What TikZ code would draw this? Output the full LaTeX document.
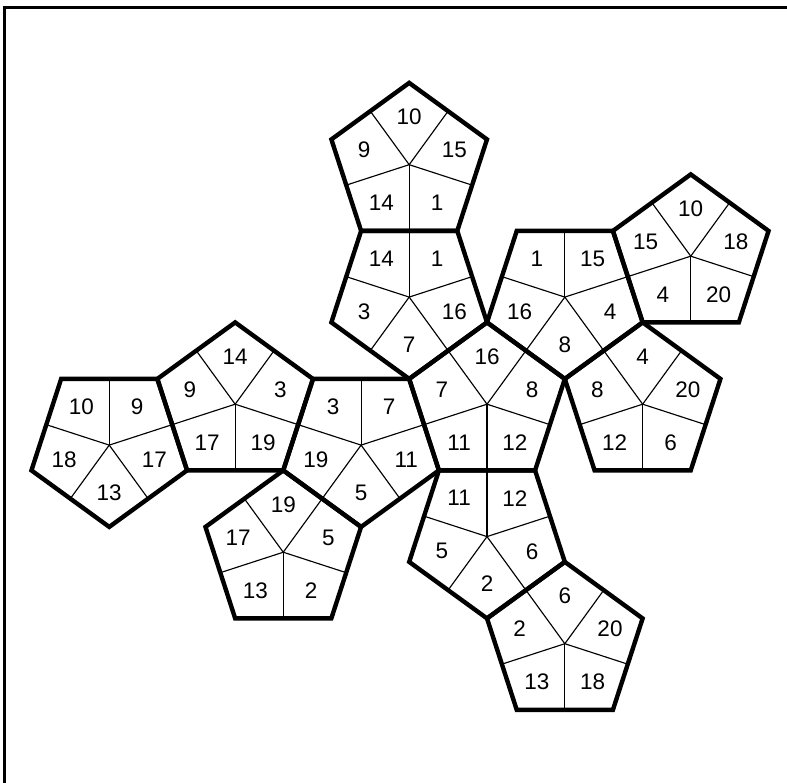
\documentclass[tikz,border=0pt]{standalone}
\usepackage{fontspec}
\setmainfont{Liberation Sans}
\usetikzlibrary{calc}

\newcommand{\facerad}{81.8}
\newcommand{\faceapo}{66.2}
\newcommand{\labrad}{47.5}

\tikzset{
    faceedge/.style={draw, line width=2.5pt},
    foldline/.style={draw, line width=0.65pt},
    framerule/.style={draw, line width=1.7pt},
    vertlab/.style={font=\fontsize{12.8}{14}\selectfont, inner sep=0pt},
}

% name, centre x, centre y, angle of first corner, corner numbers clockwise
\newcommand{\dface}[5]{
    \begin{scope}[shift={(#2,#3)}]
        \coordinate (#1) at (0,0);
        \foreach \lab [count=\k from 0] in {#5} {
            \pgfmathsetmacro{\ang}{#4+72*\k}
            \draw[foldline] (#1) -- (\ang+36:\faceapo);
            \node[vertlab] (#1-\k) at (\ang:\labrad) {\lab};
        }
        \draw[faceedge] (#4:\facerad) -- (#4+72:\facerad) -- (#4+144:\facerad)
            -- (#4+216:\facerad) -- (#4+288:\facerad) -- cycle;
    \end{scope}
}

\begin{document}
\begin{tikzpicture}[x=0.02cm, y=-0.02cm]
    \useasboundingbox (0,0) rectangle (787,783);
    \coordinate (frametl) at (4.8,7.3);
    \coordinate (frametr) at (787,7.3);
    \coordinate (framebl) at (4.8,783);
    \draw[framerule] (frametr) -- (frametl) -- (framebl);

    % faces pointing up start at -90, faces pointing down at -126
    \dface{top}{409.18}{164.69}{-90}{10,15,1,14,9}
    \dface{upper}{409.18}{297.09}{-126}{14,1,16,7,3}
    \dface{mid}{487}{404.2}{-90}{16,8,12,11,7}
    \dface{right}{564.82}{297.09}{-126}{1,15,4,8,16}
    \dface{farright}{690.74}{256.18}{-90}{10,18,20,4,15}
    \dface{lowright}{642.64}{404.2}{-90}{4,20,6,12,8}
    \dface{below}{487}{536.6}{-126}{11,12,6,2,5}
    \dface{bottom}{564.82}{643.71}{-90}{6,20,18,13,2}
    \dface{left}{361.08}{445.11}{-126}{3,7,11,5,19}
    \dface{lowleft}{283.26}{552.22}{-90}{19,5,2,13,17}
    \dface{upleft}{235.16}{404.2}{-90}{14,3,19,17,9}
    \dface{farleft}{109.24}{445.11}{-126}{10,9,17,13,18}
\end{tikzpicture}
\end{document}
